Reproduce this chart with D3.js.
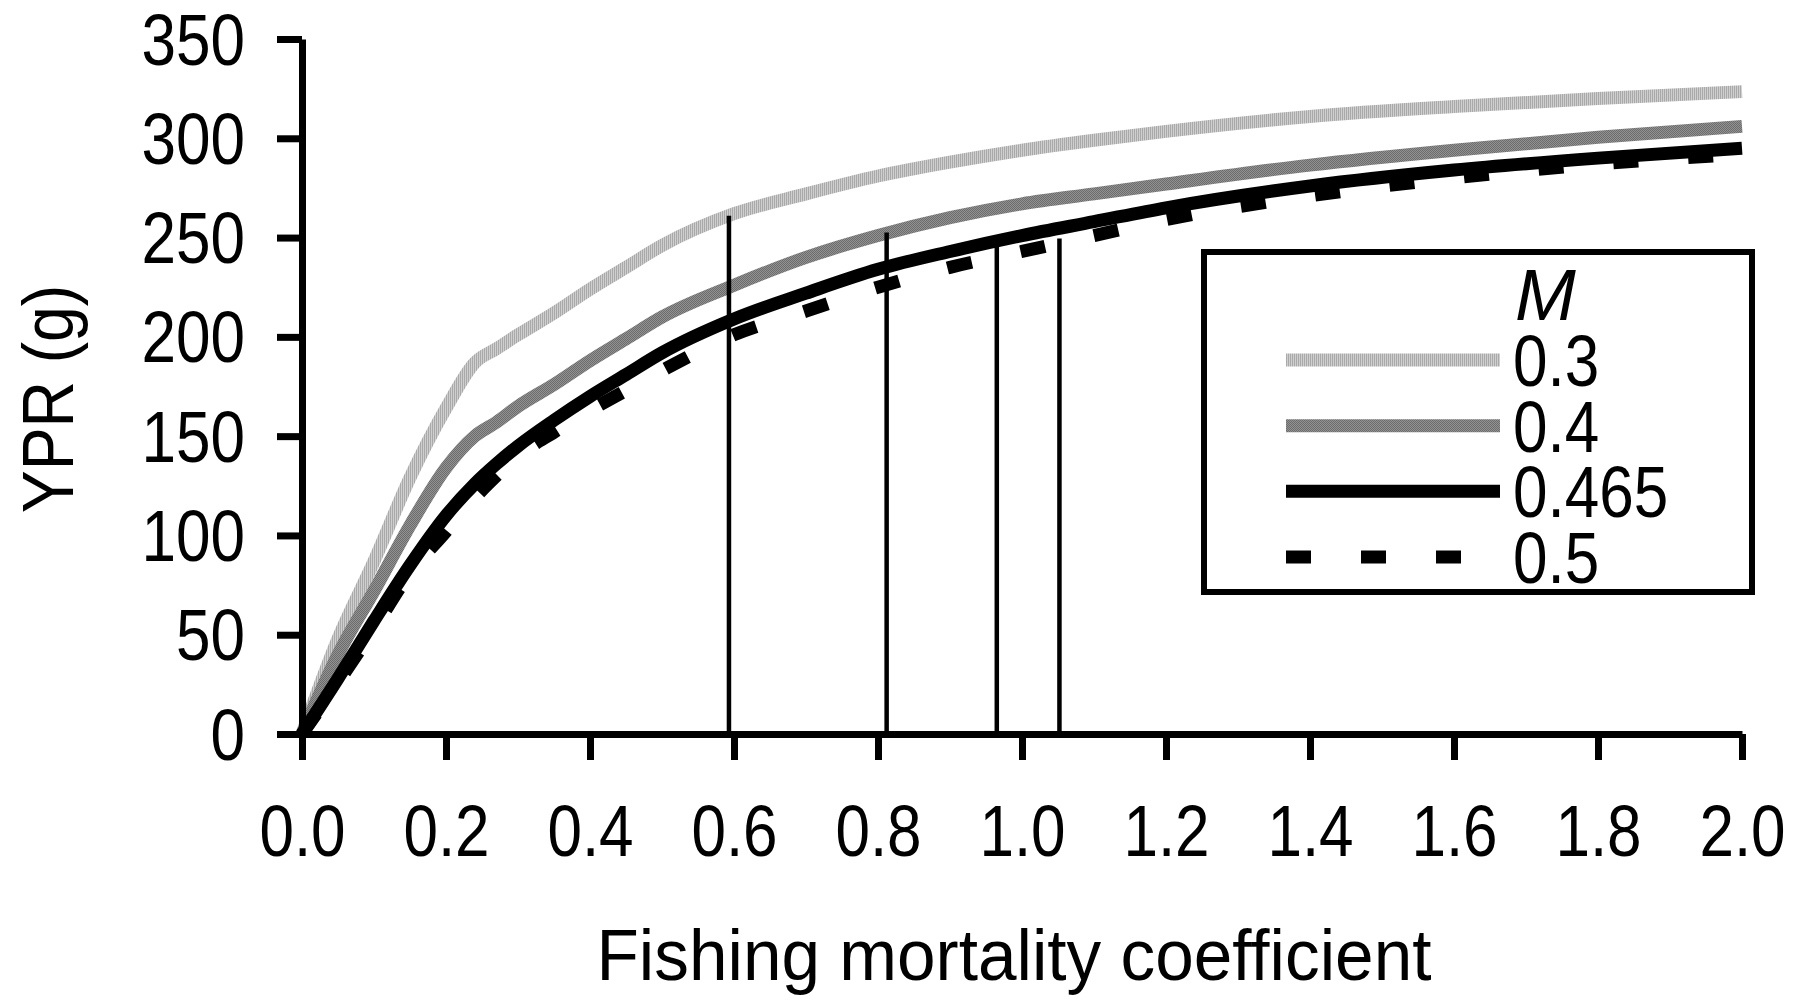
<!DOCTYPE html>
<html>
<head>
<meta charset="utf-8">
<script src="https://cdn.jsdelivr.net/npm/d3@7"></script>
<style>
  html, body { margin: 0; padding: 0; background: #fff; }
  svg { display: block; }
  text { font-family: "Liberation Sans", Arial, sans-serif; fill: #000; }
</style>
</head>
<body>
<svg id="chart"></svg>
<script>
// fishing mortality coefficient (x)
const fValues = [0, 0.05, 0.1, 0.15, 0.2, 0.24, 0.27, 0.3, 0.35, 0.4, 0.45, 0.5, 0.6, 0.7, 0.8, 0.9, 1.0, 1.1, 1.2, 1.4, 1.6, 1.8, 2.0];
// YPR (g) for each natural mortality M
const yprM030 = [0, 48, 87, 129, 164, 187, 194, 201, 212, 224, 235, 246, 262, 272, 281, 288, 294, 299, 303.5, 311, 316, 320, 323.5];
const yprM040 = [0, 40, 72, 105, 134, 150, 157, 165, 176, 188, 199, 210, 226, 240, 251, 260, 267, 272, 277, 286.5, 294, 300.5, 306];
const yprM0465 = [0, 28, 57, 85, 110, 126, 136, 145, 158, 170, 181, 192, 209, 222, 234, 243, 251, 258, 265, 276, 284, 290, 295];
const yprM050 = [0, 26, 53, 81, 102, 119, 130, 140, 152, 163, 173, 183, 201, 213, 225, 235, 243, 251, 259, 271, 280, 287, 292];
const mLabels = ['0.3', '0.4', '0.465', '0.5'];

// reference F values (vertical lines) and the YPR where they stop
const refF = [0.593, 0.812, 0.965, 1.052];
const refYpr = [261, 252.5, 247.5, 249.5];

const xTicks = [0, 0.2, 0.4, 0.6, 0.8, 1.0, 1.2, 1.4, 1.6, 1.8, 2.0];
const yTicks = [0, 50, 100, 150, 200, 250, 300, 350];

const svg = d3.select('#chart').attr('width', 1809).attr('height', 1001);

const defs = svg.append('defs');
const light = defs.append('pattern').attr('id', 'lightTex')
  .attr('patternUnits', 'userSpaceOnUse').attr('width', 2).attr('height', 2);
light.append('rect').attr('width', 2).attr('height', 2).attr('fill', '#cfcfcf');
light.append('rect').attr('width', 1).attr('height', 2).attr('fill', '#a9a9a9');
const mid = defs.append('pattern').attr('id', 'midTex')
  .attr('patternUnits', 'userSpaceOnUse').attr('width', 2).attr('height', 2);
mid.append('rect').attr('width', 2).attr('height', 2).attr('fill', '#929292');
mid.append('rect').attr('width', 1).attr('height', 1).attr('fill', '#6c6c6c');
mid.append('rect').attr('x', 1).attr('y', 1).attr('width', 1).attr('height', 1).attr('fill', '#6c6c6c');

const x = d3.scaleLinear().domain([0, 2]).range([302, 1742]);
const y = d3.scaleLinear().domain([0, 350]).range([734, 39]);

const series = [
  { label: mLabels[0], values: yprM030, stroke: 'url(#lightTex)', dash: null },
  { label: mLabels[1], values: yprM040, stroke: 'url(#midTex)', dash: null },
  { label: mLabels[2], values: yprM0465, stroke: '#000', dash: null },
  { label: mLabels[3], values: yprM050, stroke: '#000', dash: '25,50' }
];

const line = d3.line()
  .x((d, i) => x(fValues[i]))
  .y(d => y(d))
  .curve(d3.curveMonotoneX);

const curvesG = svg.append('g');
curvesG.selectAll('path')
  .data(series)
  .enter()
  .append('path')
  .attr('d', d => line(d.values))
  .attr('fill', 'none')
  .attr('stroke', d => d.stroke)
  .attr('stroke-width', 13)
  .attr('stroke-dasharray', d => d.dash);

// vertical reference lines
svg.append('g').selectAll('line')
  .data(refF)
  .enter()
  .append('line')
  .attr('x1', d => x(d)).attr('x2', d => x(d))
  .attr('y1', y(0)).attr('y2', (d, i) => y(refYpr[i]))
  .attr('stroke', '#000')
  .attr('stroke-width', 4.5);

// axes
const xAxis = d3.axisBottom(x).tickValues(xTicks).tickFormat(d3.format('.1f'))
  .tickSize(26).tickSizeOuter(0);
const yAxis = d3.axisLeft(y).tickValues(yTicks).tickSize(25).tickSizeOuter(0);

const xG = svg.append('g').attr('transform', `translate(0,${y(0)})`).call(xAxis);
const yG = svg.append('g').attr('transform', `translate(${x(0)},0)`).call(yAxis);

[xG, yG].forEach(g => {
  g.select('.domain').attr('stroke', '#000').attr('stroke-width', 7);
  g.selectAll('.tick line').attr('stroke', '#000').attr('stroke-width', 7);
  g.selectAll('.tick text').attr('font-size', 73).attr('font-family', null).attr('fill', '#000');
});

xG.selectAll('.tick text')
  .attr('y', 122).attr('dy', null)
  .attr('transform', 'scale(0.85,1)');
yG.selectAll('.tick text')
  .attr('x', -57 / 0.85).attr('y', 25).attr('dy', null)
  .attr('transform', 'scale(0.85,1)');

// axis titles
svg.append('text')
  .attr('transform', 'translate(73,399) rotate(-90) scale(0.88,1)')
  .attr('text-anchor', 'middle')
  .attr('font-size', 73)
  .text('YPR (g)');

svg.append('text')
  .attr('transform', 'translate(1014,980) scale(0.95,1)')
  .attr('text-anchor', 'middle')
  .attr('font-size', 73)
  .text('Fishing mortality coefficient');

// legend
const legendG = svg.append('g');
legendG.append('rect')
  .attr('x', 1204).attr('y', 252).attr('width', 548).attr('height', 340)
  .attr('fill', '#fff').attr('stroke', '#000').attr('stroke-width', 6);
legendG.append('text')
  .attr('x', 1515).attr('y', 320)
  .attr('font-size', 73).attr('font-style', 'italic')
  .text('M');

const rowY = d3.scalePoint().domain(mLabels).range([360, 557]);
const rows = legendG.selectAll('g.row')
  .data(series)
  .enter()
  .append('g')
  .attr('class', 'row');
rows.append('line')
  .attr('x1', 1286).attr('x2', 1500)
  .attr('y1', d => rowY(d.label)).attr('y2', d => rowY(d.label))
  .attr('stroke', d => d.stroke)
  .attr('stroke-width', 13)
  .attr('stroke-dasharray', d => d.dash);
rows.append('text')
  .attr('transform', d => `translate(1513,${rowY(d.label) + 26}) scale(0.85,1)`)
  .attr('font-size', 73)
  .text(d => d.label);
</script>
</body>
</html>
